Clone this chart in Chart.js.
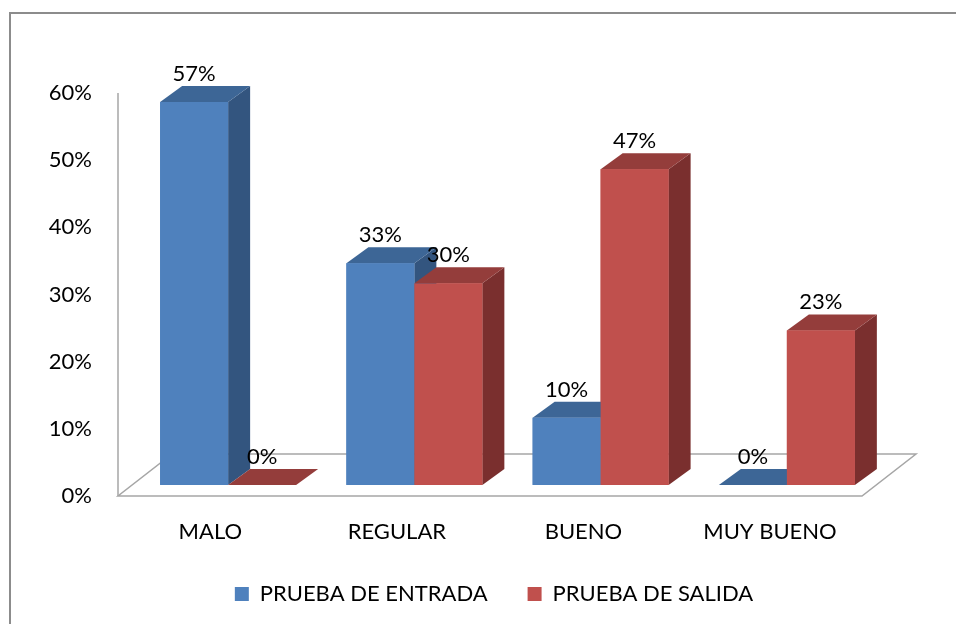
<!DOCTYPE html>
<html>
<head>
<meta charset="utf-8">
<script src="https://cdn.jsdelivr.net/npm/chart.js@4.4.1/dist/chart.umd.min.js"></script>
<style>
html,body{margin:0;padding:0;background:#fff;}
#wrap{width:956px;height:624px;position:relative;overflow:hidden;}
canvas{display:block;}
</style>
</head>
<body>
<div id="wrap"><canvas id="c" width="956" height="624"></canvas></div>
<script>
// ---- data ----
const categories = ['MALO', 'REGULAR', 'BUENO', 'MUY BUENO'];
const seriesNames = ['PRUEBA DE ENTRADA', 'PRUEBA DE SALIDA'];
const entrada = [57, 33, 10, 0];
const salida = [0, 30, 47, 23];
const yTicks = [0, 10, 20, 30, 40, 50, 60];

// ---- style ----
const FONT = 'Lato';
const BAR_DEPTH = {dx: 22, dy: -16};
const FLOOR = {insetL: 17, insetR: 18, dx: 54, dy: -42};
const LABEL_GAP = 28;
const LINE_GRAY = '#A6A6A6';

const frame = {
  id: 'frame',
  beforeDraw(chart) {
    const {ctx, width, height} = chart;
    ctx.save();
    ctx.fillStyle = '#fff';
    ctx.fillRect(0, 0, width, height);
    ctx.strokeStyle = '#8C8C8C';
    ctx.lineWidth = 2;
    ctx.beginPath();
    ctx.moveTo(10, height);
    ctx.lineTo(10, 13);
    ctx.lineTo(width, 13);
    ctx.stroke();
    ctx.restore();
  }
};

const threeD = {
  id: 'threeD',
  beforeDatasetsDraw(chart) {
    const {ctx, chartArea} = chart;
    const yl = chart.scales.yl;
    const y0 = yl.getPixelForValue(0);
    const yTop = yl.getPixelForValue(yTicks[yTicks.length - 1]);
    const fl = chartArea.left - FLOOR.insetL;
    const fr = chartArea.right - FLOOR.insetR;
    ctx.save();
    ctx.strokeStyle = LINE_GRAY;
    ctx.lineWidth = 1.5;
    ctx.beginPath();
    ctx.moveTo(fl, y0);
    ctx.lineTo(fr, y0);
    ctx.lineTo(fr + FLOOR.dx, y0 + FLOOR.dy);
    ctx.lineTo(fl + FLOOR.dx, y0 + FLOOR.dy);
    ctx.closePath();
    ctx.stroke();
    ctx.beginPath();
    ctx.moveTo(fl, y0);
    ctx.lineTo(fl, yTop);
    ctx.stroke();
    ctx.restore();
  },
  afterDatasetsDraw(chart) {
    const {ctx} = chart;
    const bars = [];
    chart.data.datasets.forEach((ds, di) => {
      const meta = chart.getDatasetMeta(di);
      meta.data.forEach((el, i) => {
        const p = el.getProps(['x', 'y', 'base', 'width'], true);
        bars.push({x: p.x, y: p.y, base: p.base, w: p.width, ds, value: ds.data[i]});
      });
    });
    bars.sort((a, b) => a.x - b.x);
    const {dx, dy} = BAR_DEPTH;
    ctx.save();
    bars.forEach(b => {
      const l = b.x - b.w / 2, r = b.x + b.w / 2, t = Math.min(b.y, b.base), bt = Math.max(b.y, b.base);
      ctx.fillStyle = b.ds.sideColor;
      ctx.beginPath();
      ctx.moveTo(r, t);
      ctx.lineTo(r + dx, t + dy);
      ctx.lineTo(r + dx, bt + dy);
      ctx.lineTo(r, bt);
      ctx.closePath();
      ctx.fill();
      ctx.fillStyle = b.ds.topColor;
      ctx.beginPath();
      ctx.moveTo(l, t);
      ctx.lineTo(r, t);
      ctx.lineTo(r + dx, t + dy);
      ctx.lineTo(l + dx, t + dy);
      ctx.closePath();
      ctx.fill();
      ctx.fillStyle = b.ds.backgroundColor;
      ctx.fillRect(l, t, b.w, bt - t);
    });
    ctx.fillStyle = '#000';
    ctx.font = '22px ' + FONT;
    ctx.textAlign = 'center';
    ctx.textBaseline = 'middle';
    bars.forEach(b => {
      ctx.fillText(b.value + '%', b.x, Math.min(b.y, b.base) - LABEL_GAP);
    });
    ctx.restore();
  }
};

Chart.defaults.font.family = FONT;
Chart.defaults.font.size = 22;
Chart.defaults.color = '#000';

new Chart(document.getElementById('c'), {
  type: 'bar',
  data: {
    labels: categories,
    datasets: [
      {label: seriesNames[0], data: entrada, backgroundColor: '#4F81BD', topColor: '#3D6696', sideColor: '#33557F', borderWidth: 0},
      {label: seriesNames[1], data: salida, backgroundColor: '#C0504D', topColor: '#943D3B', sideColor: '#7A2F2E', borderWidth: 0}
    ]
  },
  options: {
    responsive: false,
    animation: false,
    events: [],
    categoryPercentage: 0.73,
    barPercentage: 1.0,
    layout: {padding: {left: 32, right: 0, top: 60, bottom: 9}},
    scales: {
      x: {type: 'category', display: false, offset: true},
      y: {type: 'linear', display: false, min: -1.65, max: 63.25},
      yl: {
        type: 'linear', position: 'left', min: 0, max: 64.9,
        grid: {display: false}, border: {display: false},
        ticks: {padding: 35, color: '#000', font: {size: 22}, callback: v => v + '%'},
        afterBuildTicks: a => { a.ticks = yTicks.map(v => ({value: v})); },
        afterFit: a => { a.width = 103; }
      },
      yr: {
        type: 'linear', position: 'right', display: true,
        grid: {display: false}, border: {display: false}, ticks: {display: false},
        afterFit: a => { a.width = 76; }
      },
      xl: {
        type: 'linear', position: 'bottom', min: -0.404, max: 3.59, offset: false,
        grid: {display: false, offset: false}, border: {display: false},
        ticks: {padding: 15, color: '#000', font: {size: 22}, autoSkip: false, maxRotation: 0,
                callback: v => categories[v]},
        afterBuildTicks: a => { a.ticks = categories.map((c, i) => ({value: i})); },
        afterFit: a => { a.height = 47; }
      }
    },
    plugins: {
      legend: {
        position: 'bottom',
        labels: {boxWidth: 14, boxHeight: 14, padding: 40, color: '#000', font: {size: 22}}
      },
      tooltip: {enabled: false}
    }
  },
  plugins: [frame, threeD]
});
</script>
</body>
</html>
